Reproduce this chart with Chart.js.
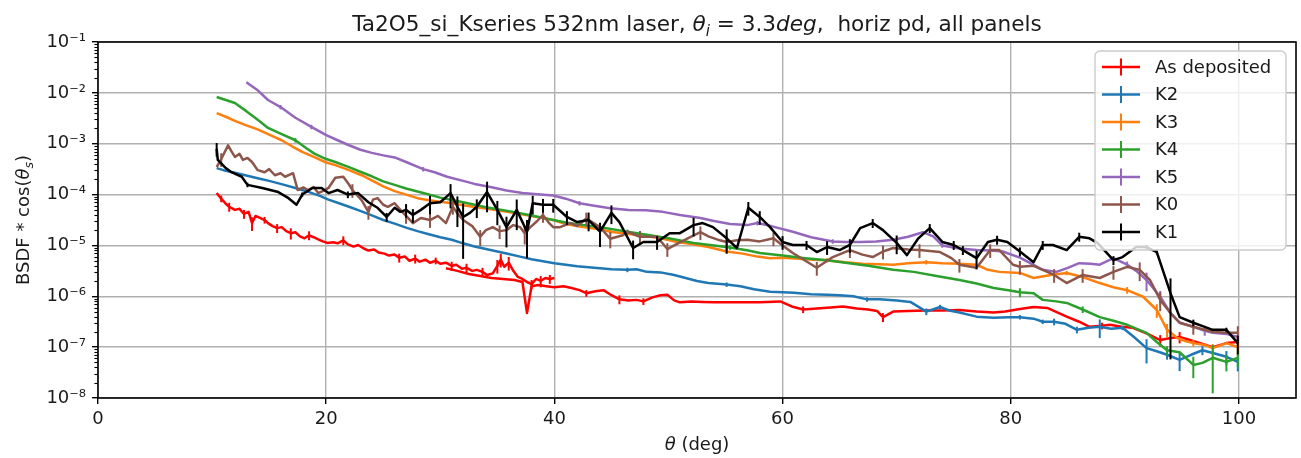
<!DOCTYPE html>
<html><head><meta charset="utf-8">
<script src="https://cdn.jsdelivr.net/npm/chart.js@4/dist/chart.umd.min.js"></script>
<style>html,body{margin:0;padding:0;background:#fff;overflow:hidden}</style>
</head><body>
<canvas id="c" width="1301" height="458"></canvas>
<script>
// ---- tick values / labels ----
const xTicks = [0, 20, 40, 60, 80, 100];
const yTicks = [1e-8, 1e-7, 1e-6, 1e-5, 1e-4, 1e-3, 1e-2, 1e-1];
const yTickLabels = ['10⁻⁸', '10⁻⁷', '10⁻⁶', '10⁻⁵', '10⁻⁴', '10⁻³', '10⁻²', '10⁻¹'];
const seriesLabels = ['As deposited', 'K2', 'K3', 'K4', 'K5', 'K0', 'K1'];
const seriesColors = ['#ff0000', '#1f77b4', '#ff7f0e', '#2ca02c', '#9467bd', '#8c564b', '#000000'];

// ---- series: [theta (deg), BSDF*cos, relative error] ----
const asDeposited = [
 [10.4,1.07e-4],[10.8,8.3e-5,0.15],[11.2,6.6e-5],[11.5,5.75e-5,0.2],[12.0,5.0e-5],[12.4,5.25e-5],[12.8,4.17e-5,0.2],[13.2,4.57e-5],[13.5,2.75e-5,0.3],[13.8,3.8e-5],[14.2,3.47e-5],[14.6,3.16e-5,0.15],[14.9,2.75e-5],[15.3,2.4e-5],[15.7,2.19e-5,0.2],[16.1,2.29e-5],[16.5,1.91e-5],[16.9,1.74e-5,0.25],[17.3,1.82e-5],[17.7,1.51e-5],[18.1,1.38e-5],[18.5,1.58e-5,0.2],[18.9,1.45e-5],[19.3,1.32e-5],[19.7,1.2e-5],[20.1,1.12e-5],[20.6,1.15e-5],[21.0,1.1e-5],[21.5,1.26e-5,0.2],[21.9,1.05e-5],[22.4,9.5e-6],[22.8,1.02e-5],[23.3,8.7e-6],[23.7,7.94e-6],[24.2,8.3e-6],[24.6,7.24e-6],[25.1,6.9e-6],[25.5,6.31e-6],[26.0,6.6e-6],[26.4,5.75e-6,0.2],[26.9,6.03e-6],[27.3,5.0e-6],[27.8,5.5e-6,0.2],[28.2,4.79e-6],[28.7,5.25e-6],[29.1,4.57e-6],[29.6,5.0e-6,0.15],[30.0,4.37e-6],[30.5,4.57e-6],[31.0,3.98e-6,0.2],[31.4,4.17e-6],[31.9,3.47e-6],[32.3,3.63e-6,0.2],[32.8,3.16e-6],[33.2,3.31e-6],[33.7,3.02e-6,0.2],[34.1,2.63e-6],[34.6,2.82e-6],[35.0,3.98e-6,0.3],[35.3,5.25e-6,0.3],[35.6,3.8e-6],[36.0,4.57e-6,0.3],[36.4,3.16e-6],[36.8,2.4e-6],[37.2,2.19e-6],[37.6,1.91e-6],[38.0,1.74e-6,0.2],[38.4,2.19e-6],[38.8,2.0e-6,0.25],[39.2,2.29e-6],[39.6,2.19e-6,0.2],[40.0,2.29e-6],
 [40.0,null],
 [30.5,3.55e-6],[31.5,3.16e-6],[32.5,2.75e-6],[33.5,2.51e-6],[34.5,2.29e-6],[35.5,2.19e-6],[36.5,2.09e-6],[37.2,1.91e-6],[37.6,4.68e-7],[38.0,1.58e-6],[38.6,1.66e-6],[39.3,1.58e-6],[40.0,1.51e-6],[40.8,1.58e-6],[41.5,1.45e-6],[42.2,1.32e-6],[42.8,1.15e-6,0.15],[43.6,1.26e-6],[44.3,1.32e-6],[45.0,1.05e-6],[45.7,8.7e-7,0.2],[46.5,8.3e-7],[47.2,8.5e-7],[47.8,7.94e-7,0.15],[48.6,9.5e-7],[49.3,1.05e-6],[49.9,1.07e-6],[50.5,8.3e-7],[51.0,7.6e-7],[52.0,7.94e-7],[53.0,7.76e-7],[54.0,7.6e-7],[55.1,7.6e-7],[56.5,7.6e-7],[58.0,7.6e-7],[59.8,7.94e-7],[60.8,6.31e-7],[61.8,5.5e-7,0.15],[63.0,5.75e-7],[64.2,6.03e-7],[65.3,6.31e-7],[66.5,5.75e-7],[67.5,5.5e-7],[68.3,5.13e-7],[68.8,3.89e-7,0.2],[69.7,5.0e-7],[71.0,5.13e-7],[72.5,5.25e-7],[74.0,5.25e-7],[75.5,5.37e-7],[77.0,5.0e-7],[78.5,4.79e-7],[79.5,5.0e-7],[80.8,5.62e-7],[82.0,6.17e-7],[83.2,5.9e-7],[84.9,3.98e-7],[86.0,3.16e-7],[86.9,2.51e-7],[88.0,2.63e-7,0.15],[88.7,2.75e-7],[89.7,2.51e-7],[90.7,2.4e-7],[92.0,1.82e-7],[93.1,1.38e-7,0.25],[94.0,1.51e-7],[94.8,1.58e-7,0.25],[95.7,1.38e-7],[96.6,1.2e-7],[97.7,1.0e-7],[98.9,1.2e-7],[99.9,1.26e-7,0.2]
];
const k2 = [
 [10.4,3.31e-4],[11.0,3.02e-4],[12.0,2.69e-4],[12.9,2.4e-4],[14.0,2.09e-4],[15.0,1.86e-4],[16.0,1.62e-4],[17.3,1.35e-4],[18.5,1.12e-4],[19.5,9.3e-5],[20.2,7.94e-5],[21.0,6.9e-5],[22.0,5.75e-5],[23.1,4.68e-5],[24.0,3.89e-5],[25.0,3.16e-5],[26.0,2.69e-5],[27.0,2.24e-5],[28.0,1.91e-5],[29.0,1.66e-5],[30.0,1.45e-5],[31.0,1.29e-5],[32.0,1.1e-5],[33.0,9.55e-6],[34.0,8.5e-6],[35.0,7.6e-6],[36.0,6.76e-6],[37.0,6.03e-6],[38.0,5.37e-6],[39.0,4.9e-6],[40.0,4.47e-6],[41.0,4.17e-6],[42.0,3.89e-6],[43.0,3.72e-6],[44.0,3.55e-6],[45.0,3.39e-6],[46.4,3.31e-6,0.1],[47.2,3.39e-6],[48.1,3.02e-6],[49.3,2.95e-6],[50.5,2.63e-6],[51.5,2.29e-6],[52.5,2.0e-6],[53.5,1.82e-6],[55.1,1.7e-6,0.1],[56.3,1.58e-6],[57.5,1.38e-6],[58.9,1.23e-6],[60.0,1.2e-6],[61.0,1.17e-6],[62.5,1.1e-6],[63.9,1.07e-6],[65.0,1.05e-6],[66.2,1.0e-6],[67.4,8.7e-7,0.1],[68.5,8.7e-7],[70.0,8.3e-7],[71.2,7.76e-7],[72.6,5.0e-7,0.15],[73.8,6.17e-7,0.1],[74.6,5.25e-7],[75.5,4.79e-7],[77.0,3.98e-7],[78.5,3.8e-7],[79.8,3.89e-7],[80.8,3.89e-7,0.1],[82.0,3.63e-7],[82.8,3.16e-7,0.1],[83.8,3.16e-7,0.15],[84.8,2.88e-7],[85.8,2.19e-7,0.15],[86.8,2.4e-7],[87.8,2.51e-7,0.4],[88.8,2.29e-7],[89.8,2.4e-7,0.1],[90.8,1.58e-7],[91.9,9.55e-8,0.5],[92.8,8.3e-8],[93.7,7.08e-8,0.2],[94.8,5.62e-8,0.4],[95.8,7.08e-8],[96.8,8.7e-8,0.2],[97.8,7.6e-8],[98.9,6.46e-8,0.3],[99.9,5.13e-8,0.35]
];
const k3 = [
 [10.4,3.98e-3],[11.2,3.39e-3],[12.0,2.82e-3],[13.0,2.29e-3],[14.0,1.91e-3],[15.0,1.51e-3],[16.1,1.17e-3],[17.0,8.9e-4],[17.9,6.9e-4],[19.0,5.37e-4],[20.0,4.27e-4],[20.8,3.8e-4],[22.0,3.02e-4],[23.1,2.4e-4],[24.0,1.91e-4],[25.0,1.45e-4],[26.0,1.17e-4],[27.0,1.0e-4],[28.0,8.5e-5],[29.0,7.76e-5],[30.0,7.24e-5],[31.0,6.76e-5],[32.0,6.17e-5],[33.5,5.5e-5],[35.0,4.9e-5],[36.4,4.37e-5],[38.0,3.8e-5],[39.9,3.16e-5],[41.0,2.63e-5],[42.5,2.29e-5],[44.0,2.09e-5],[44.9,1.86e-5,0.1],[46.0,1.74e-5],[47.5,1.58e-5],[49.3,1.38e-5],[50.5,1.2e-5],[52.0,1.07e-5],[53.5,9.3e-6],[55.1,7.6e-6,0.1],[56.5,6.9e-6],[57.8,6.03e-6],[58.9,5.62e-6],[60.0,5.75e-6],[61.5,5.5e-6],[62.7,5.25e-6],[63.9,5.13e-6,0.1],[65.5,4.68e-6],[67.0,4.37e-6],[68.5,4.27e-6],[69.7,4.17e-6],[71.0,4.47e-6],[72.6,4.68e-6,0.1],[74.0,4.47e-6],[75.5,4.37e-6],[77.0,4.17e-6],[78.0,3.31e-6],[79.0,3.02e-6],[80.8,2.88e-6],[82.0,2.29e-6],[83.5,2.63e-6],[84.9,2.88e-6,0.1],[86.3,2.4e-6],[87.8,1.82e-6],[89.0,1.51e-6],[90.2,1.32e-6,0.15],[91.6,9.8e-7],[92.8,5.37e-7,0.3],[93.7,2.19e-7,0.3],[94.6,1.51e-7],[95.3,1.32e-7],[96.0,1.2e-7,0.15],[97.0,1.1e-7],[97.7,9.55e-8,0.2],[98.9,1.2e-7],[99.9,1.0e-7,0.3]
];
const k4 = [
 [10.4,8.3e-3],[11.2,7.24e-3],[12.0,6.31e-3],[13.0,4.37e-3],[14.0,2.95e-3],[14.9,2.04e-3],[16.0,1.58e-3],[17.3,1.17e-3,0.1],[18.2,8.3e-4],[19.0,6.31e-4],[20.0,5.0e-4],[20.8,4.37e-4],[22.0,3.47e-4],[23.1,2.75e-4],[24.0,2.29e-4],[25.0,1.82e-4],[26.0,1.55e-4],[27.0,1.32e-4],[28.5,1.07e-4],[30.0,8.7e-5],[32.0,7.08e-5],[34.0,5.62e-5],[36.4,4.57e-5],[38.0,3.89e-5],[39.9,3.16e-5],[41.0,2.82e-5],[42.5,2.51e-5],[44.0,2.29e-5],[46.4,1.86e-5,0.1],[48.1,1.62e-5],[50.0,1.38e-5],[52.2,1.12e-5],[54.0,1.0e-5],[55.4,9.1e-6,0.1],[57.0,7.94e-6],[58.0,7.08e-6],[60.0,6.31e-6],[62.0,5.62e-6],[63.9,5.13e-6],[65.5,4.57e-6],[67.5,3.98e-6],[69.7,3.31e-6],[71.5,3.02e-6],[73.5,2.51e-6],[75.5,2.09e-6],[77.0,1.78e-6],[78.5,1.45e-6],[79.8,1.32e-6],[80.8,1.2e-6,0.2],[82.0,1.15e-6],[82.8,8.5e-7],[84.0,7.94e-7],[84.9,7.41e-7],[86.3,5.5e-7,0.15],[87.8,3.89e-7],[89.0,3.31e-7],[90.2,2.75e-7],[91.9,1.91e-7],[92.8,1.26e-7],[93.7,8.7e-8,0.2],[94.8,7.94e-8],[96.0,4.47e-8,0.45],[96.8,4.9e-8],[97.7,6.17e-8,0.8],[98.9,5.13e-8,0.35],[99.9,6.17e-8,0.35]
];
const k5 = [
 [13.0,1.62e-2],[13.5,1.35e-2],[14.0,1.12e-2],[14.9,7.24e-3],[16.0,5.25e-3,0.1],[17.3,3.24e-3],[18.7,2.14e-3,0.1],[20.0,1.48e-3],[21.0,1.17e-3],[21.9,9.55e-4],[23.0,7.6e-4],[24.0,6.6e-4],[25.0,5.9e-4],[26.0,5.37e-4],[27.0,4.37e-4],[28.5,3.16e-4,0.1],[29.5,2.75e-4],[30.6,2.24e-4],[32.0,1.86e-4],[33.0,1.62e-4],[34.4,1.41e-4],[35.8,1.2e-4],[37.2,1.07e-4],[38.5,1.02e-4],[39.9,9.55e-5],[41.0,8.3e-5],[42.2,6.76e-5,0.1],[43.5,6.03e-5],[44.9,5.37e-5],[46.5,5.0e-5],[48.0,4.9e-5],[49.5,4.57e-5],[51.0,3.98e-5],[52.8,3.47e-5],[54.0,3.02e-5],[55.4,2.63e-5],[56.9,2.51e-5],[57.8,2.75e-5,0.1],[59.0,2.4e-5],[60.9,1.86e-5],[62.5,1.45e-5],[64.4,1.2e-5,0.1],[65.5,1.17e-5],[66.8,1.17e-5],[68.2,1.2e-5],[69.7,1.29e-5],[71.0,1.48e-5],[72.3,1.82e-5],[73.2,1.51e-5],[74.0,1.0e-5,0.1],[75.5,8.7e-6],[77.0,8.1e-6],[78.3,7.94e-6],[79.3,7.6e-6],[80.8,5.75e-6],[81.8,4.37e-6],[82.8,3.31e-6],[84.0,3.02e-6],[85.0,3.63e-6],[86.0,4.47e-6],[87.0,4.37e-6],[87.8,4.17e-6],[89.0,5.62e-6],[90.2,4.17e-6,0.15],[91.0,3.16e-6],[91.9,2.09e-6,0.4],[93.1,9.8e-7,0.3],[94.0,4.68e-7],[94.8,3.02e-7],[96.0,2.51e-7],[97.0,2.09e-7,0.2],[97.7,1.91e-7],[98.9,1.82e-7],[99.9,1.58e-7]
];
const k0 = [
 [10.4,3.47e-4],[10.8,5.0e-4,0.3],[11.4,9.3e-4],[11.7,7.08e-4],[12.0,5.5e-4],[12.4,6.31e-4],[12.7,4.79e-4],[13.1,5.25e-4],[13.5,4.37e-4],[14.0,3.02e-4],[14.6,2.75e-4],[15.0,3.16e-4],[15.5,2.4e-4],[16.0,2.63e-4],[16.4,2.24e-4],[17.1,2.63e-4],[17.5,1.23e-4],[18.0,1.38e-4],[18.4,1.23e-4],[18.9,1.41e-4],[19.3,1.07e-4],[19.8,1.2e-4],[20.2,1.35e-4],[20.8,2.14e-4],[21.5,2.24e-4],[22.0,1.58e-4],[22.3,1.23e-4,0.3],[23.1,7.76e-5],[23.7,4.57e-5,0.3],[24.1,7.94e-5],[24.5,8.5e-5],[25.0,6.31e-5],[25.4,5.75e-5],[26.0,6.76e-5],[26.5,5.0e-5],[27.0,3.8e-5,0.3],[27.6,2.75e-5],[28.3,3.47e-5],[29.1,3.16e-5,0.3],[29.8,3.8e-5],[30.5,2.75e-5],[31.1,5.75e-5,0.3],[31.6,3.98e-5],[32.0,3.16e-5],[32.8,2.4e-5],[33.5,1.48e-5,0.35],[34.0,2.0e-5],[34.6,2.29e-5],[35.2,1.91e-5,0.3],[35.8,2.0e-5],[36.4,2.51e-5],[37.0,2.29e-5],[37.4,1.74e-5,0.4],[37.9,2.29e-5],[38.5,3.02e-5],[39.0,3.98e-5,0.3],[39.5,2.82e-5],[39.9,2.29e-5],[40.5,2.29e-5],[41.4,2.75e-5],[42.0,2.4e-5],[42.8,3.39e-5,0.3],[44.0,2.29e-5],[44.9,1.35e-5,0.35],[46.0,1.58e-5],[46.4,1.86e-5],[47.5,1.48e-5,0.3],[49.0,1.48e-5],[49.9,8.5e-6,0.3],[50.5,1.0e-5],[51.6,1.35e-5],[52.8,1.82e-5,0.3],[53.5,1.51e-5],[54.5,1.26e-5],[55.1,1.17e-5,0.3],[56.0,1.26e-5],[56.9,1.29e-5],[58.0,1.2e-5],[59.2,1.38e-5,0.3],[60.0,1.0e-5],[60.9,7.08e-6],[62.0,5.0e-6],[63.0,3.63e-6,0.3],[64.4,5.9e-6],[65.9,8.1e-6,0.3],[67.0,6.6e-6],[67.9,5.9e-6],[68.8,7.6e-6,0.3],[69.7,8.9e-6],[71.0,8.3e-6],[72.0,8.1e-6,0.3],[73.8,7.41e-6],[74.8,5.62e-6],[75.5,4.17e-6,0.3],[77.0,3.63e-6],[78.2,8.1e-6,0.3],[79.0,8.1e-6],[80.2,4.17e-6],[80.8,3.8e-6,0.3],[82.0,3.98e-6],[82.8,3.31e-6],[83.8,2.63e-6,0.3],[84.9,1.82e-6],[86.3,2.63e-6,0.3],[87.8,2.29e-6],[89.0,3.02e-6,0.3],[90.2,3.8e-6],[91.3,3.31e-6,0.4],[92.2,2.09e-6],[93.1,8.5e-7,0.4],[94.0,4.68e-7],[94.8,3.02e-7],[96.0,2.51e-7,0.3],[97.0,2.19e-7],[97.7,2.0e-7],[98.9,1.91e-7],[99.9,1.91e-7,0.35]
];
const k1 = [
 [10.4,7.94e-4,0.3],[10.5,4.79e-4],[11.2,3.31e-4],[11.7,2.75e-4],[12.6,2.24e-4],[13.1,1.55e-4,0.1],[14.4,1.35e-4],[15.8,1.12e-4],[16.7,8.5e-5],[17.4,6.31e-5],[17.9,1.0e-4,0.1],[18.8,1.35e-4],[19.6,1.35e-4],[20.2,1.07e-4],[21.0,1.23e-4],[21.9,1.0e-4,0.15],[22.8,1.07e-4],[23.7,7.08e-5],[24.5,5.5e-5],[25.3,3.63e-5,0.2],[26.0,5.5e-5],[26.5,4.57e-5],[27.0,5.0e-5,0.3],[27.6,3.98e-5,0.3],[28.3,5.0e-5],[29.1,6.76e-5,0.4],[30.0,7.08e-5],[30.9,1.07e-4,0.5],[31.5,5.75e-5,0.6],[32.0,3.63e-5,0.85],[32.6,4.37e-5],[33.2,5.75e-5,0.4],[34.1,1.12e-4,0.6],[35.0,5.0e-5,0.5],[35.8,2.29e-5,0.6],[36.7,5.0e-5,0.6],[37.6,1.86e-5,0.7],[38.1,6.76e-5,0.4],[39.0,6.31e-5,0.3],[39.9,6.31e-5,0.3],[41.1,3.63e-5,0.3],[42.0,2.88e-5],[43.0,3.16e-5,0.4],[44.0,1.86e-5,0.5],[45.0,4.37e-5,0.4],[45.7,2.88e-5],[46.9,8.9e-6,0.4],[47.8,1.17e-5],[49.0,1.17e-5,0.3],[50.1,1.74e-5],[51.0,1.74e-5],[52.2,2.51e-5,0.4],[53.0,2.75e-5],[53.9,2.29e-5],[55.1,1.38e-5,0.5],[56.0,8.9e-6],[57.0,5.5e-5,0.3],[58.0,3.63e-5,0.3],[58.9,2.29e-5],[60.0,1.17e-5,0.3],[60.9,1.02e-5],[62.1,1.02e-5,0.2],[63.0,7.41e-6],[63.9,9.3e-6,0.3],[65.0,8.1e-6],[65.9,1.02e-5,0.3],[66.8,2.19e-5],[67.9,2.75e-5,0.2],[68.8,2.0e-5],[70.0,1.12e-5,0.4],[70.9,6.46e-6],[71.9,1.38e-5],[72.9,2.19e-5,0.2],[74.0,1.17e-5],[75.0,1.02e-5,0.2],[75.8,8.1e-6,0.2],[77.0,5.62e-6,0.4],[78.0,1.17e-5],[78.8,1.29e-5,0.2],[79.7,1.17e-5],[80.8,7.6e-6,0.2],[82.0,4.68e-6],[82.8,1.02e-5,0.2],[83.7,1.02e-5],[84.9,8.1e-6],[86.0,1.48e-5,0.2],[86.9,1.38e-5],[87.6,1.12e-5],[89.0,5.13e-6,0.2],[89.8,5.9e-6],[91.0,9.3e-6],[91.9,9.3e-6,0.1],[92.8,7.41e-6,0.1],[94.0,1.15e-6,0.95],[94.8,3.89e-7],[96.0,3.02e-7,0.15],[97.0,2.51e-7],[97.7,2.19e-7],[98.9,2.19e-7,0.1],[99.9,1.2e-7,0.4]
];
const allSeries = [asDeposited, k2, k3, k4, k5, k0, k1];

const FONT = '"DejaVu Sans", sans-serif';
const TEXT = '#1a1a1a';

function drawRich(ctx, segs, size, x, y) {
  let total = 0;
  const widths = segs.map(s => {
    ctx.font = (s.i ? 'italic ' : '') + (s.sub ? size * 0.7 : size) + 'px ' + FONT;
    const w = ctx.measureText(s.t).width; total += w; return w;
  });
  let cx = x - total / 2;
  segs.forEach((s, k) => {
    ctx.font = (s.i ? 'italic ' : '') + (s.sub ? size * 0.7 : size) + 'px ' + FONT;
    ctx.fillText(s.t, cx, y + (s.sub ? size * 0.22 : 0));
    cx += widths[k];
  });
}

const decor = {
  id: 'decor',
  beforeDraw(chart) {
    const ctx = chart.ctx;
    ctx.save(); ctx.fillStyle = '#fff'; ctx.fillRect(0, 0, chart.width, chart.height); ctx.restore();
  },
  afterDatasetDraw(chart, args) {
    const ctx = chart.ctx, ys = chart.scales.y, a = chart.chartArea;
    const ds = chart.data.datasets[args.index];
    const meta = args.meta;
    ctx.save();
    ctx.beginPath(); ctx.rect(a.left, a.top, a.right - a.left, a.bottom - a.top); ctx.clip();
    ctx.strokeStyle = ds.borderColor; ctx.lineWidth = 2;
    ds.data.forEach((p, i) => {
      if (p.y == null || !p.e) return;
      const el = meta.data[i];
      const top = ys.getPixelForValue(p.y * (1 + p.e));
      const lo = p.y * (1 - p.e);
      const bot = lo > 0 ? ys.getPixelForValue(lo) : a.bottom;
      ctx.beginPath(); ctx.moveTo(el.x, top); ctx.lineTo(el.x, bot); ctx.stroke();
    });
    ctx.restore();
  },
  afterDraw(chart) {
    const ctx = chart.ctx, a = chart.chartArea, ys = chart.scales.y;
    ctx.save();
    // minor ticks on log axis
    ctx.strokeStyle = '#000'; ctx.lineWidth = 1.1;
    for (let d = 0; d < yTicks.length - 1; d++) {
      for (let m = 2; m <= 9; m++) {
        const y = Math.round(ys.getPixelForValue(yTicks[d] * m)) + 0.5;
        ctx.beginPath(); ctx.moveTo(a.left - 3.6, y); ctx.lineTo(a.left, y); ctx.stroke();
      }
    }
    // spines
    ctx.strokeStyle = '#000'; ctx.lineWidth = 1.6;
    ctx.strokeRect(a.left, a.top, a.right - a.left, a.bottom - a.top);
    // title
    ctx.fillStyle = TEXT; ctx.textBaseline = 'alphabetic';
    const cx = (a.left + a.right) / 2;
    drawRich(ctx, [
      {t: 'Ta2O5_si_Kseries 532nm laser, '}, {t: 'θ', i: true}, {t: 'i', i: true, sub: true},
      {t: ' = 3.3'}, {t: 'deg', i: true}, {t: ',  horiz pd, all panels'}
    ], 21.6, cx, a.top - 11);
    // x label
    drawRich(ctx, [{t: 'θ', i: true}, {t: ' (deg)'}], 18, cx, 450);
    // y label
    ctx.save();
    ctx.translate(29, (a.top + a.bottom) / 2); ctx.rotate(-Math.PI / 2);
    drawRich(ctx, [{t: 'BSDF * cos('}, {t: 'θ', i: true}, {t: 's', i: true, sub: true}, {t: ')'}], 18, 0, 0);
    ctx.restore();
    // legend
    const n = chart.data.datasets.length;
    const rowH = 27.5, lw = 191, lh = 199;
    const lx = a.right - 10 - lw, ly = a.top + 9;
    ctx.beginPath();
    if (ctx.roundRect) ctx.roundRect(lx, ly, lw, lh, 5); else ctx.rect(lx, ly, lw, lh);
    ctx.fillStyle = 'rgba(255,255,255,0.8)'; ctx.fill();
    ctx.strokeStyle = '#cccccc'; ctx.lineWidth = 1.4; ctx.stroke();
    ctx.font = '18px ' + FONT; ctx.textBaseline = 'middle';
    chart.data.datasets.forEach((ds, i) => {
      const y = ly + 16 + i * rowH;
      ctx.strokeStyle = ds.borderColor; ctx.lineWidth = 2.5;
      ctx.beginPath(); ctx.moveTo(lx + 7, y); ctx.lineTo(lx + 45, y); ctx.stroke();
      ctx.lineWidth = 2;
      ctx.beginPath(); ctx.moveTo(lx + 26, y - 8.5); ctx.lineTo(lx + 26, y + 8.5); ctx.stroke();
      ctx.fillStyle = TEXT; ctx.fillText(ds.label, lx + 60, y + 1);
    });
    ctx.restore();
  }
};

const datasets = allSeries.map((arr, i) => ({
  label: seriesLabels[i],
  data: arr.map(p => ({x: p[0], y: p[1], e: p[2] || 0})),
  borderColor: seriesColors[i],
  backgroundColor: seriesColors[i],
  showLine: true,
  borderWidth: 2.5,
  borderJoinStyle: 'round',
  pointRadius: 0,
  pointHoverRadius: 0,
  spanGaps: false,
  order: allSeries.length - 1 - i
}));

const gridOpts = {color: '#b0b0b0', lineWidth: 1.4, tickColor: '#000', tickLength: 6, tickWidth: 1.4, drawTicks: true};

new Chart(document.getElementById('c'), {
  type: 'scatter',
  data: {datasets},
  options: {
    responsive: false, animation: false, devicePixelRatio: 1, events: [],
    layout: {padding: {top: 42, right: 5, left: 0, bottom: 0}},
    plugins: {legend: {display: false}, title: {display: false}, tooltip: {enabled: false}},
    scales: {
      x: {
        type: 'linear', min: 0, max: 105,
        afterBuildTicks: s => { s.ticks = xTicks.map(v => ({value: v})); },
        afterFit: s => { s.height = 60; },
        grid: gridOpts, border: {display: false},
        ticks: {font: {family: FONT, size: 18}, color: TEXT, padding: 5, maxRotation: 0, autoSkip: false}
      },
      y: {
        type: 'logarithmic', min: 1e-8, max: 1e-1,
        afterBuildTicks: s => { s.ticks = yTicks.map(v => ({value: v, major: true})); },
        afterFit: s => { s.width = 98; },
        grid: gridOpts, border: {display: false},
        ticks: {font: {family: FONT, size: 18}, color: TEXT, padding: 6, autoSkip: false,
          callback: v => { const k = yTicks.indexOf(v); return k >= 0 ? yTickLabels[k] : ''; }}
      }
    }
  },
  plugins: [decor]
});
</script>
</body></html>
